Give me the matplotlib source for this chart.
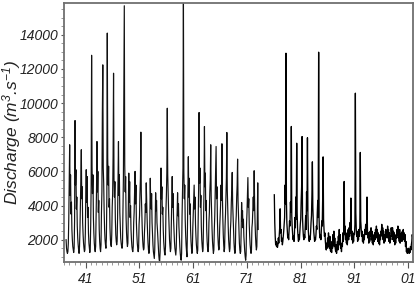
import numpy as np
import matplotlib
matplotlib.use('Agg')
import matplotlib.pyplot as plt
from matplotlib.ticker import MultipleLocator, FixedLocator

plt.rcParams['font.family'] = ['Liberation Sans', 'DejaVu Sans']
plt.rcParams['mathtext.fontset'] = 'custom'
plt.rcParams['mathtext.rm'] = 'Liberation Sans:italic'
plt.rcParams['mathtext.it'] = 'Liberation Sans:italic'

# monthly discharge (m3/s), first block starts May 1937
early_start = 1937 + 4 / 12
q_early = [
    2000, 1500, 1300, 1200, 1300, 1800, 3200, 5200,                          # 1937
    7560, 4600, 5800, 3500, 4200, 2600, 2000, 1600, 1400, 1250, 1500, 3100,  # 1938
    8980, 5200, 6100, 3800, 4500, 2800, 2100, 1700, 1400, 1200, 1600, 2600,  # 1939
    4300, 5600, 7270, 4400, 5100, 3000, 2300, 1800, 1500, 1300, 1400, 2400,  # 1940
    4600, 6100, 4200, 5700, 3300, 3900, 2400, 1800, 1500, 1250, 1500, 2900,  # 1941
    5200, 12800, 6300, 4700, 5800, 3300, 2400, 1800, 1500, 1300, 1600, 3400, # 1942
    5000, 7750, 4800, 6000, 3600, 4300, 2600, 1900, 1500, 1300, 1700, 3600,  # 1943
    4800, 9400, 12240, 6200, 5300, 3700, 2600, 2000, 1700, 1500, 2100, 4400, # 1944
    14100, 6800, 5200, 6300, 3900, 4400, 2700, 2000, 1700, 1600, 2300, 3900, # 1945
    4700, 6900, 11750, 5600, 4500, 5400, 3200, 2300, 1900, 1700, 1900, 3300, # 1946
    5400, 7750, 4600, 5800, 3600, 2800, 2100, 1800, 1600, 1500, 1800, 3500,  # 1947
    5600, 11000, 15700, 6400, 4800, 5700, 3300, 2400, 1900, 1600, 1800, 3800, # 1948
    5900, 4200, 5400, 3300, 4000, 2600, 2000, 1600, 1400, 1300, 1600, 3000,  # 1949
    3600, 4900, 6000, 4100, 5200, 3000, 2300, 1800, 1500, 1300, 1500, 2900,  # 1950
    3400, 4700, 5600, 8300, 4700, 3600, 2700, 2000, 1600, 1400, 1500, 2400,  # 1951
    3000, 4100, 3600, 5330, 4200, 3200, 2400, 1800, 1400, 1200, 1400, 3000,  # 1952
    5600, 4100, 3800, 4700, 3000, 2300, 1700, 1300, 1100, 900, 1400, 3200,   # 1953
    4750, 3700, 4300, 3000, 2600, 2100, 1500, 1100, 800, 750, 1300, 3300,    # 1954
    6200, 4400, 5100, 3500, 3900, 2600, 1900, 1500, 1200, 1100, 1600, 3700,  # 1955
    4600, 5900, 9700, 5800, 4600, 3600, 2700, 2000, 1600, 1300, 1500, 3000,  # 1956
    4300, 5700, 3900, 4700, 3200, 2500, 1900, 1500, 1300, 1100, 1500, 2800,  # 1957
    3600, 4750, 3400, 4100, 2800, 2200, 1600, 1200, 900, 800, 1200, 3400,    # 1958
    4800, 6200, 16500, 6000, 4400, 5200, 3200, 2300, 1700, 1300, 1000, 2600, # 1959
    4600, 6860, 4500, 5600, 3500, 4100, 2600, 1900, 1500, 1200, 1400, 2700,  # 1960
    3500, 4300, 5200, 3800, 4500, 2900, 2200, 1700, 1400, 1200, 1400, 3100,  # 1961
    5000, 9450, 5300, 6200, 3900, 4600, 2800, 2000, 1600, 1300, 1500, 3400,  # 1962
    4900, 8630, 5100, 5900, 3700, 4300, 2600, 1900, 1500, 1300, 1600, 3000,  # 1963
    3600, 4800, 5500, 7560, 4600, 3600, 2600, 1900, 1500, 1200, 1400, 2600,  # 1964
    3400, 4700, 5800, 7460, 4400, 5100, 3100, 2200, 1700, 1400, 1500, 2700,  # 1965
    3300, 4000, 5200, 4300, 7620, 4700, 3300, 2300, 1700, 1300, 1500, 2800,  # 1966
    3500, 4600, 5600, 8280, 4900, 3800, 2800, 2000, 1600, 1300, 1500, 2600,  # 1967
    3100, 4200, 4900, 5940, 4100, 3300, 2500, 1800, 1400, 1200, 1400, 2900,  # 1968
    3400, 4500, 5200, 6720, 4300, 3400, 2400, 1800, 1400, 1200, 1300, 2500,  # 1969
    4180, 3100, 3700, 2700, 3200, 2200, 1700, 1300, 1000, 800, 1100, 2900,   # 1970
    3600, 4600, 5640, 3900, 4400, 2900, 2200, 1700, 1400, 1200, 1400, 2700,  # 1971
    3000, 3800, 4500, 3700, 6040, 4200, 3000, 2200, 1700, 1400, 1600, 3200,  # 1972
    5330, 2600,                                                              # 1973
]

# second block starts February 1976
late_start = 1976 + 1 / 12
q_late = [
    4630, 3000, 2200, 1700, 1900, 1600, 1800, 1550, 1700, 2100, 1800,        # 1976
    2300, 2700, 3810, 2400, 2600, 1900, 2100, 1700, 1900, 2200, 2500, 2900,  # 1977
    3300, 5200, 4100, 12920, 4300, 3000, 2500, 2100, 2300, 2000, 2600, 3100, # 1978
    2800, 4200, 3600, 8630, 3400, 2700, 2300, 2000, 2200, 1900, 2400, 3300,  # 1979
    2700, 4500, 3200, 7650, 3600, 2600, 2200, 1900, 2300, 2000, 2500, 2900,  # 1980
    3200, 4300, 5100, 8040, 3300, 2600, 2200, 2000, 2300, 2100, 2700, 3400,  # 1981
    2600, 4800, 3700, 7970, 3500, 2500, 2100, 1900, 2200, 2000, 2400, 3000,  # 1982
    3400, 4600, 6560, 3900, 3100, 2500, 2200, 1900, 2100, 2000, 2300, 2800,  # 1983
    2600, 3600, 4300, 3300, 12980, 3200, 2400, 2100, 2300, 2000, 2500, 3100, # 1984
    2800, 4400, 6850, 3200, 2600, 2200, 2400, 1900, 1600, 1400, 1800, 1500,  # 1985
    2100, 1600, 2400, 1800, 1500, 2200, 1400, 1300, 1700, 1250, 1900, 1500,  # 1986
    2300, 1700, 2500, 1600, 2100, 1500, 1300, 1700, 1200, 1600, 1900, 1400,  # 1987
    2200, 1800, 2600, 1700, 2300, 1500, 1700, 1300, 1800, 1600, 2400, 1900,  # 1988
    2500, 5410, 2300, 2800, 2000, 2400, 1800, 2100, 1700, 2200, 2600, 2000,  # 1989
    2700, 2200, 3000, 2400, 4440, 2300, 2000, 2500, 1800, 2200, 1900, 2400,  # 1990
    2300, 2900, 10580, 3600, 2600, 2200, 2500, 1900, 2300, 2000, 2600, 2200, # 1991
    2800, 7110, 3100, 2600, 2200, 2500, 1900, 2300, 1800, 2200, 2000, 2600,  # 1992
    2400, 2900, 2300, 2700, 4500, 2600, 2100, 2400, 1800, 2200, 1900, 2500,  # 1993
    2200, 2700, 2000, 2500, 1800, 2300, 1700, 2100, 1900, 2400, 2000, 2600,  # 1994
    2300, 2800, 2100, 2600, 1900, 2400, 1800, 2200, 1700, 2300, 2000, 2500,  # 1995
    2400, 2900, 2200, 2700, 2000, 2500, 1800, 2300, 1900, 2100, 2600, 2200,  # 1996
    2500, 2100, 2800, 2300, 2600, 1900, 2400, 1800, 2200, 2000, 2700, 2300,  # 1997
    2200, 2700, 2000, 2500, 1900, 2400, 1700, 2200, 1800, 2300, 2100, 2600,  # 1998
    2300, 2800, 2100, 2500, 1900, 2600, 1800, 2300, 2000, 2400, 1900, 2500,  # 1999
    2200, 2600, 2000, 2400, 1900, 2300, 1600, 1900, 1300, 1500, 1200, 1400,  # 2000
    1300, 1500, 1200, 1400, 1250, 1600, 1400, 1700, 1900, 2300, 2100,        # 2001
]

tick_years = [1941, 1951, 1961, 1971, 1981, 1991, 2001]
tick_labels = ['41', '51', '61', '71', '81', '91', '01']

t_early = early_start + (np.arange(len(q_early)) + 0.5) / 12
t_late = late_start + (np.arange(len(q_late)) + 0.5) / 12

fig = plt.figure(figsize=(4.16, 2.85), dpi=100)
ax = fig.add_axes([0.154, 0.081, 0.839, 0.909])

ax.plot(t_early, q_early, color='#111111', lw=0.85)
ax.plot(t_late, q_late, color='black', lw=0.95)

ax.set_xlim(1937, 2001.95)
ax.set_ylim(700, 15870)

ax.xaxis.set_major_locator(FixedLocator(tick_years))
ax.set_xticklabels(tick_labels)
ax.xaxis.set_minor_locator(MultipleLocator(1))
ax.yaxis.set_major_locator(FixedLocator([2000, 4000, 6000, 8000, 10000, 12000, 14000]))
ax.yaxis.set_minor_locator(MultipleLocator(500))

ax.tick_params(axis='x', which='major', direction='out', length=4, width=0.8,
               colors='#555555', labelcolor='#222222', labelsize=10, pad=3)
ax.tick_params(axis='y', which='major', direction='out', length=2, width=0.8,
               colors='#555555', labelcolor='#222222', labelsize=10, pad=2)
ax.tick_params(which='minor', direction='out', length=2, width=0.6, colors='#888888')
for lab in ax.get_xticklabels() + ax.get_yticklabels():
    lab.set_fontstyle('italic')

for sp in ax.spines.values():
    sp.set_color('#707070')
    sp.set_linewidth(1.3)

ax.set_ylabel(r'Discharge (m$^{3}$.s$^{-1}$)', fontsize=12.5, style='italic', color='#222222')
ax.yaxis.set_label_coords(-0.118, 0.5)

fig.savefig('out.png', dpi=100)
